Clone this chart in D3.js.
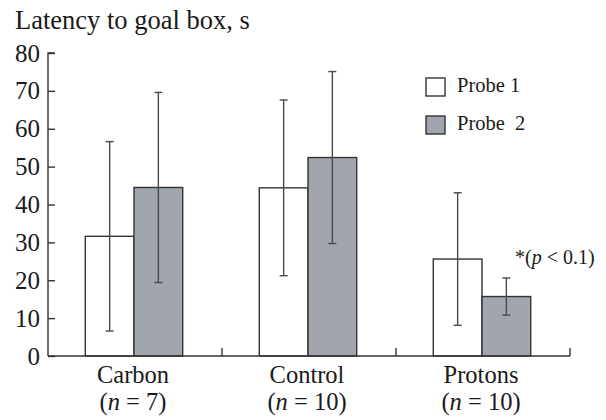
<!DOCTYPE html>
<html>
<head>
<meta charset="utf-8">
<script src="https://cdn.jsdelivr.net/npm/d3@7"></script>
<style>
  html, body { margin: 0; padding: 0; background: #fff; }
  svg { display: block; }
</style>
</head>
<body>
<svg id="chart" width="606" height="420" font-family="'Liberation Serif', 'Times New Roman', serif"></svg>
<script>
// Group names and sample sizes
const groups = ["Carbon", "Control", "Protons"];
const groupN = ["7", "10", "10"];
// Series
const series = ["Probe 1", "Probe 2"];
const seriesLegend = ["Probe 1", "Probe\u00a0 2"];
// Mean latency (s) per group, and error half-widths
const probe1Mean = [31.6, 44.4, 25.6];
const probe1Err  = [25.0, 23.2, 17.5];
const probe2Mean = [44.5, 52.4, 15.7];
const probe2Err  = [25.1, 22.7, 4.9];
// Y-axis ticks
const yTicks = [0, 10, 20, 30, 40, 50, 60, 70, 80];

const fills = ["#ffffff", "#a1a6ae"];
const strokeDark = "#333";
const errColor = "#4a4a4a";
const textColor = "#1a1a1a";

const svg = d3.select("#chart");

const y = d3.scaleLinear().domain([0, 80]).range([356, 53]);
const x = d3.scaleBand().domain(groups).range([48, 570]).padding(0);
const xs = d3.scaleBand().domain(series).range([0, x.bandwidth()])
  .paddingInner(0).paddingOuter(0.786);

const rows = [];
groups.forEach((g, i) => {
  rows.push({ g, s: series[0], mean: probe1Mean[i], err: probe1Err[i], k: 0 });
  rows.push({ g, s: series[1], mean: probe2Mean[i], err: probe2Err[i], k: 1 });
});

// Bars
svg.append("g").selectAll("rect").data(rows).join("rect")
  .attr("x", d => x(d.g) + xs(d.s) - 1)
  .attr("y", d => y(d.mean))
  .attr("width", xs.bandwidth())
  .attr("height", d => y(0) - y(d.mean))
  .attr("fill", d => fills[d.k])
  .attr("stroke", strokeDark)
  .attr("stroke-width", 1.4);

// Error bars
const eb = svg.append("g").attr("stroke", errColor).attr("stroke-width", 1.4);
rows.forEach(d => {
  const cx = x(d.g) + xs(d.s) - 1 + xs.bandwidth() / 2;
  eb.append("line").attr("x1", cx).attr("x2", cx)
    .attr("y1", y(d.mean + d.err)).attr("y2", y(d.mean - d.err));
  [d.mean + d.err, d.mean - d.err].forEach(v => {
    eb.append("line").attr("x1", cx - 4).attr("x2", cx + 4)
      .attr("y1", y(v)).attr("y2", y(v));
  });
});

// Y axis with inward ticks
const yAxis = d3.axisRight(y).tickValues(yTicks).tickSize(7).tickFormat("");
const yg = svg.append("g").attr("transform", "translate(48,0)").call(yAxis);
yg.selectAll("path, line").attr("stroke", strokeDark).attr("stroke-width", 1.4);
yg.select(".domain").attr("d", `M7,${y(80)}H0V${y(0)}`);
svg.append("g").selectAll("text").data(yTicks).join("text")
  .attr("x", 40).attr("y", d => y(d)).attr("dy", "0.34em")
  .attr("text-anchor", "end").attr("font-size", 25).attr("fill", textColor)
  .text(d => d);

// X axis with upward ticks at group boundaries
svg.append("line").attr("x1", 48).attr("x2", 570).attr("y1", y(0)).attr("y2", y(0))
  .attr("stroke", strokeDark).attr("stroke-width", 1.4);
const tickXs = groups.map(g => x(g) + x.bandwidth());
svg.append("g").selectAll("line").data(tickXs).join("line")
  .attr("x1", d => d).attr("x2", d => d)
  .attr("y1", y(0)).attr("y2", y(0) - 8)
  .attr("stroke", strokeDark).attr("stroke-width", 1.4);

// Group labels (name, then sample size)
const lab = svg.append("g").selectAll("g").data(groups).join("g")
  .attr("transform", d => `translate(${x(d) + x.bandwidth() / 2 - 2},0)`);
lab.append("text").attr("y", 383).attr("text-anchor", "middle")
  .attr("font-size", 24.5).attr("fill", textColor).text(d => d);
lab.append("text").attr("y", 410).attr("text-anchor", "middle")
  .attr("font-size", 24.5).attr("fill", textColor)
  .html((d, i) => `(<tspan font-style="italic">n</tspan> = ${groupN[i]})`);

// Title
svg.append("text").attr("x", 15).attr("y", 29).attr("font-size", 26.5).attr("fill", textColor)
  .text("Latency to goal box, s");

// Legend
const leg = svg.append("g").selectAll("g").data(series).join("g")
  .attr("transform", (d, i) => `translate(426,${78 + i * 38})`);
leg.append("rect").attr("width", 19).attr("height", 18)
  .attr("fill", (d, i) => fills[i]).attr("stroke", strokeDark).attr("stroke-width", 1.4);
leg.append("text").attr("x", 31).attr("y", 14).attr("font-size", 20.5).attr("fill", textColor)
  .text((d, i) => seriesLegend[i]);

// Significance note above Protons / Probe 2
const pIdx = 2;
svg.append("text")
  .attr("x", x(groups[pIdx]) + xs(series[1]) + 32)
  .attr("y", y(probe2Mean[pIdx] + probe2Err[pIdx]) - 14)
  .attr("font-size", 20).attr("fill", textColor)
  .html(`*(<tspan font-style="italic">p</tspan> &lt; 0.1)`);
</script>
</body>
</html>
